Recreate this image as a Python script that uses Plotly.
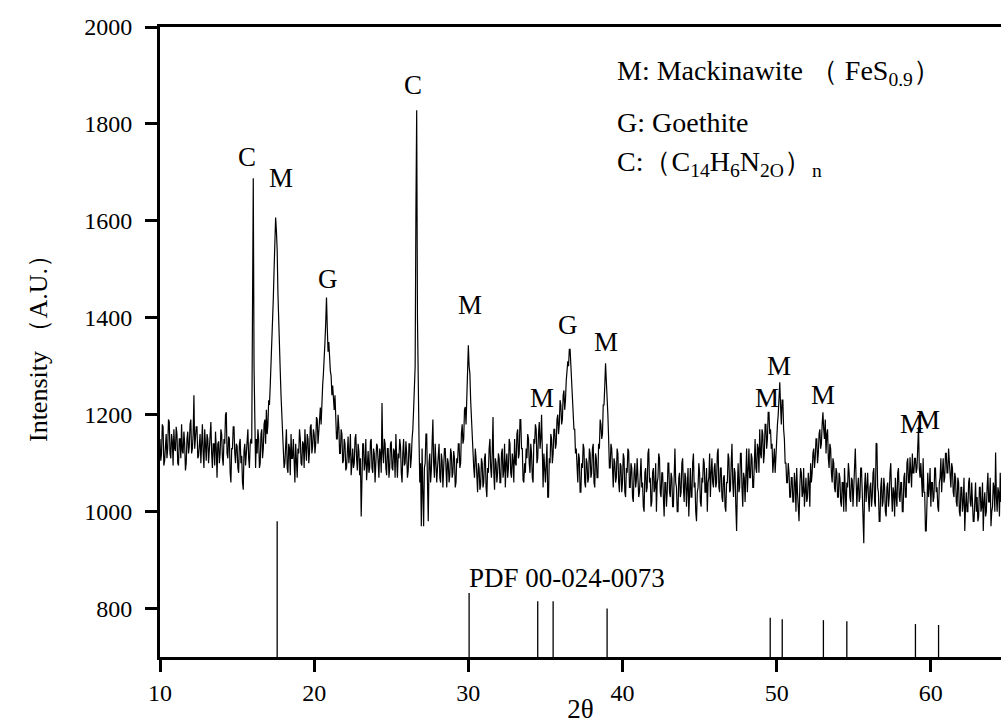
import plotly.graph_objects as go

# ---- data ----
two_theta_start = 10.0
two_theta_step = 0.05
intensity = [
    1150,1105,1120,1180,1175,1095,1105,1150,1160,1110,1130,1190,1185,1120,1110,1160,1145,1095,1170,1130,
    1125,1175,1160,1100,1095,1150,1150,1110,1180,1125,1120,1165,1140,1085,1100,1150,1165,1120,1135,1180,
    1190,1120,1130,1160,1240,1130,1150,1175,1175,1110,1115,1150,1160,1100,1135,1180,1120,1090,1170,1140,
    1105,1160,1150,1100,1130,1175,1185,1120,1090,1140,1140,1095,1165,1130,1070,1140,1145,1100,1120,1170,
    1160,1110,1095,1150,1140,1200,1205,1120,1110,1155,1150,1080,1060,1130,1130,1175,1175,1120,1100,1140,
    1135,1090,1080,1140,1150,1100,1115,1060,1045,1125,1140,1095,1120,1165,1170,1110,1090,1140,1150,1140,
    1520,1688,1300,1120,1090,1150,1120,1170,1150,1090,1100,1160,1170,1110,1130,1180,1190,1140,1210,1160,
    1180,1230,1220,1260,1300,1330,1380,1440,1500,1560,1607,1580,1540,1450,1380,1330,1290,1240,1200,1160,
    1150,1090,1100,1160,1170,1090,1080,1140,1130,1075,1160,1110,1110,1150,1090,1060,1140,1110,1070,1130,
    1120,1170,1150,1100,1095,1145,1140,1090,1170,1130,1105,1160,1150,1100,1125,1175,1180,1120,1135,1170,
    1160,1120,1140,1195,1190,1140,1170,1210,1215,1180,1240,1260,1285,1310,1350,1390,1442,1380,1330,1350,
    1310,1290,1280,1240,1260,1220,1210,1240,1190,1150,1150,1200,1175,1120,1120,1170,1160,1100,1105,1150,
    1140,1085,1090,1150,1155,1100,1120,1160,1075,1100,1130,1090,1100,1150,1160,1110,1085,1140,1125,1075,
    1110,990,1060,1140,1140,1085,1100,1150,1065,1110,1125,1080,1090,1145,1150,1090,1080,1130,1120,1060,
    1095,1140,1135,1080,1070,1130,1120,1080,1224,1120,1100,1150,1140,1090,1075,1130,1130,1070,1090,1140,
    1145,1090,1085,1130,1125,1070,1160,1110,1070,1120,1110,1150,1135,1080,1060,1120,1150,1095,1100,1145,
    1120,1070,1085,1140,1140,1090,1110,1150,1170,1210,1260,1300,1620,1828,1400,1200,1150,1060,1100,970,
    1130,1040,970,1090,1100,1160,1160,1060,980,1100,1120,1060,1085,1140,1190,1100,1070,1140,1110,1060,
    1090,1130,1140,1070,1060,1120,1105,1050,1080,1130,1130,1070,1050,1110,1100,1060,1075,1130,1120,1070,
    1080,1125,1110,1050,1060,1110,1100,1140,1140,1090,1100,1160,1180,1140,1150,1210,1216,1180,1260,1300,
    1343,1300,1285,1230,1190,1150,1140,1090,1070,1130,1110,1060,1040,1100,1090,1045,1055,1110,1100,1050,
    1060,1110,1120,1050,1030,1090,1080,1130,1150,1090,1070,1120,1195,1080,1045,1110,1100,1060,1080,1120,
    1110,1060,1060,1120,1130,1070,1085,1140,1050,1100,1120,1070,1090,1150,1140,1080,1070,1120,1105,1060,
    1150,1100,1095,1160,1170,1110,1120,1190,1190,1130,1130,1065,1060,1100,1080,1130,1110,1160,1150,1100,
    1080,1140,1120,1070,1060,1150,1140,1180,1170,1100,1110,1160,1185,1130,1150,1200,1090,1050,1120,1080,
    1060,1100,1140,1030,1030,1110,1100,1160,1150,1100,1120,1170,1170,1130,1140,1190,1200,1160,1180,1230,
    1220,1180,1190,1240,1250,1210,1230,1270,1290,1310,1300,1335,1335,1300,1270,1240,1220,1170,1170,1120,
    1130,1070,1060,1120,1110,1040,1040,1100,1090,1140,1130,1060,1050,1110,1100,1060,1070,1130,1120,1070,
    1080,1130,1140,1060,1050,1120,1110,1070,1070,1140,1130,1190,1180,1150,1160,1220,1220,1260,1306,1270,
    1240,1200,1150,1090,1090,1140,1130,1070,1050,1110,1100,1060,1070,1130,1120,1060,1040,1100,1095,1040,
    1060,1120,1110,1040,1030,1090,1080,1130,1125,1050,1050,1100,1090,1030,1020,1080,1100,1050,1065,1110,
    1080,1030,1040,1100,1110,1050,1060,1010,1000,1080,1090,1040,1050,1120,1130,1060,1070,1010,1020,1080,
    1090,1040,1050,1100,1000,1060,1070,1120,1110,1040,1030,1080,1080,1030,990,1060,1060,1010,1040,1100,
    1100,1040,1030,1080,1070,1010,1010,1070,1130,1060,1050,1000,1000,1070,1080,1030,1040,1100,1110,1050,
    1020,1080,1070,1010,1045,1090,990,1040,1090,1030,1030,1100,1120,1050,1060,1000,980,1040,1050,1100,
    1080,1020,1010,1070,1060,1110,1100,1040,1040,1090,1000,1060,1070,1120,1030,1080,1110,1060,1050,1090,
    1100,1050,1060,1120,1130,1050,1040,1090,1090,1030,1020,1070,1075,1010,1000,1060,1060,1120,1110,1040,
    1045,1100,1140,1060,1030,1090,1080,1010,960,1050,1100,1040,1050,1120,1120,1050,1010,1080,1070,1020,
    1090,1130,1040,1080,1130,1070,1070,1120,1110,1050,1050,1100,1150,1090,1080,1140,1130,1080,1170,1120,
    1110,1170,1160,1100,1120,1180,1180,1130,1150,1205,1205,1160,1170,1130,1140,1080,1100,1130,1080,1120,
    1140,1180,1200,1240,1267,1220,1180,1230,1230,1170,1150,1100,1100,1060,1060,1100,1080,1030,1030,1070,
    1070,1020,1020,1080,1060,1000,1090,1040,1000,980,1050,1090,1080,1030,1040,1090,1010,1060,1070,1020,
    1030,1080,1060,1010,1100,1060,1080,1120,1130,1090,1110,1150,1150,1100,1120,1160,1170,1130,1140,1180,
    1205,1170,1150,1190,1120,1160,1170,1110,1090,1140,1130,1080,1060,1110,1100,1050,1040,1090,1080,1030,
    1030,1080,1070,1020,1010,1060,1060,1000,1090,1040,1000,1060,1050,1100,1080,1030,1020,1070,1065,1010,
    1040,1090,1130,1060,1010,1050,1070,1020,1030,1090,1090,1040,960,935,1050,1080,1020,1060,1080,1030,
    1000,1050,1060,1010,1030,1080,1090,1020,1010,1141,1140,1050,1040,980,980,1050,1070,1010,1020,1070,
    1050,1000,990,1050,1060,1010,1030,1080,1100,1040,1000,1050,1040,990,1070,1030,1010,1080,1090,1030,
    1020,1060,1060,1000,1000,1070,1080,1030,1030,1100,1110,1060,1060,1112,1090,1050,1120,1080,1080,1110,
    1110,1080,1090,1172,1175,1090,1070,1100,1060,1030,1110,1040,1040,960,960,1050,1080,1030,1050,1090,
    1010,1060,1060,1020,1030,1090,1090,1040,1050,1010,1000,1060,1070,1110,1040,1080,1110,1060,1070,1120,
    1120,1080,1080,1130,1100,1060,1050,1100,1090,1040,1030,1080,1070,1020,1010,1070,1060,1000,990,1050,
    1050,1000,1020,1070,960,1010,1040,1000,1000,1060,1070,1020,1010,1060,1030,980,980,1040,1060,1000,
    1030,980,990,1050,1050,1000,1010,1060,960,1020,1040,990,1000,1050,1080,1020,1020,1070,970,1000,
    1010,1060,1050,1000,1122,1030,1000,1050,1040,990,1080,1020,
]
assert len(intensity) == 1092, len(intensity)

# reference pattern PDF 00-024-0073
pdf_pos = [17.6, 30.05, 34.5, 35.5, 39.0, 49.58, 50.36, 53.03, 54.55, 59.0, 60.5]
pdf_int = [980, 832, 815, 815, 800, 781, 778, 776, 774, 768, 766]

# peak labels
label_text = ["C", "M", "G", "C", "M", "M", "G", "M", "M", "M", "M", "M", "M"]
label_x = [15.64, 17.85, 20.9, 26.4, 30.1, 34.8, 36.46, 38.9, 49.4, 50.15, 53.0, 58.77, 59.8]
label_y = [1731, 1688, 1481, 1880, 1426, 1234, 1385, 1350, 1234, 1300, 1240, 1180, 1189]

legend_lines = [
    "M: Mackinawite （ FeS<sub>0.9</sub>）",
    "G: Goethite",
    "C:（C<sub>14</sub>H<sub>6</sub>N<sub>2O</sub>）<sub>n</sub>",
]

y_range = [700, 2000]
x_range = [10, 64.55]

FONT = "Liberation Serif"

fig = go.Figure()
fig.add_trace(go.Scatter(
    x0=two_theta_start, dx=two_theta_step, y=intensity,
    mode="lines", line=dict(color="black", width=1.2), showlegend=False,
))

sx, sy = [], []
for p, v in zip(pdf_pos, pdf_int):
    sx += [p, p, None]
    sy += [y_range[0], v, None]
fig.add_trace(go.Scatter(x=sx, y=sy, mode="lines",
                         line=dict(color="black", width=1.3), showlegend=False))

for t, x, y in zip(label_text, label_x, label_y):
    fig.add_annotation(x=x, y=y, xref="x", yref="y", text=t, showarrow=False,
                       font=dict(family=FONT, size=27, color="black"))

fig.add_annotation(x=36.4, y=863, xref="x", yref="y", text="PDF 00-024-0073",
                   showarrow=False, font=dict(family=FONT, size=27, color="black"))

for i, (txt, yp) in enumerate(zip(legend_lines, [0.927, 0.849, 0.783])):
    fig.add_annotation(x=0.541, y=yp, xref="paper", yref="paper", text=txt,
                       showarrow=False, xanchor="left", yanchor="middle",
                       font=dict(family=FONT, size=28, color="black"))

fig.update_layout(
    width=1001, height=724,
    margin=dict(l=160, r=0, t=27, b=67),
    paper_bgcolor="white", plot_bgcolor="white",
    font=dict(family=FONT, color="black"),
    xaxis=dict(range=x_range, tickvals=[10, 20, 30, 40, 50, 60],
               ticks="outside", ticklen=12, tickwidth=3, tickcolor="black",
               showline=True, linewidth=3, linecolor="black", mirror=True,
               showgrid=False, zeroline=False,
               tickfont=dict(family=FONT, size=24, color="black"),
               title=dict(text="2θ", font=dict(family=FONT, size=27, color="black"), standoff=0)),
    yaxis=dict(range=y_range, tickvals=[800, 1000, 1200, 1400, 1600, 1800, 2000],
               ticks="outside", ticklen=12, tickwidth=3, tickcolor="black",
               showline=True, linewidth=3, linecolor="black", mirror=False,
               showgrid=False, zeroline=False, ticklabelstandoff=8,
               tickfont=dict(family=FONT, size=24, color="black"),
               title=dict(text="Intensity （A.U.）", font=dict(family=FONT, size=26, color="black"), standoff=30)),
)

fig.write_html("out.html")
